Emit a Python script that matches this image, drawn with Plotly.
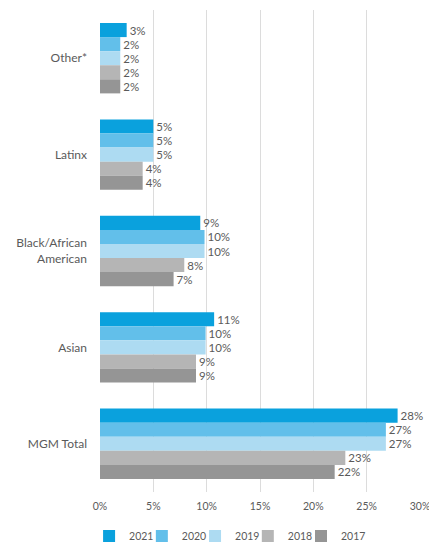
import plotly.graph_objects as go

categories = ["Other*", "Latinx", "Black/African<br>American", "Asian", "MGM Total"]
years = ["2021", "2020", "2019", "2018", "2017"]
values = {
    "2021": [2.5, 5.0, 9.4, 10.7, 27.9],
    "2020": [1.9, 5.0, 9.8, 9.9, 26.8],
    "2019": [1.9, 5.0, 9.8, 9.9, 26.8],
    "2018": [1.9, 4.0, 7.9, 9.0, 23.0],
    "2017": [1.9, 4.0, 6.9, 9.0, 22.0],
}
labels = {
    "2021": ["3%", "5%", "9%", "11%", "28%"],
    "2020": ["2%", "5%", "10%", "10%", "27%"],
    "2019": ["2%", "5%", "10%", "10%", "27%"],
    "2018": ["2%", "4%", "8%", "9%", "23%"],
    "2017": ["2%", "4%", "7%", "9%", "22%"],
}
colors = {
    "2021": "#0aa1dd",
    "2020": "#62bfea",
    "2019": "#addbf2",
    "2018": "#b5b5b5",
    "2017": "#959595",
}
tick_vals = [0, 5, 10, 15, 20, 25, 30]
tick_text = ["0%", "5%", "10%", "15%", "20%", "25%", "30%"]

W, H = 429, 535  # page body has an 8px default margin
legend_x = [0.189, 0.312, 0.436, 0.559, 0.683]

fig = go.Figure()
for i, y in enumerate(years):
    fig.add_trace(go.Bar(
        name=y, orientation="h", x=values[y], y=categories,
        marker=dict(color=colors[y], line=dict(width=0)),
        text=labels[y], textposition="outside", cliponaxis=False,
        constraintext="none",
        textfont=dict(size=11.5, color="#5a5a5a"),
        legend="legend" if i == 0 else f"legend{i+1}",
    ))

fig.update_layout(
    width=W, height=H,
    barmode="group", bargap=0.27, bargroupgap=0,
    plot_bgcolor="white", paper_bgcolor="white",
    font=dict(family="Lato", size=11, color="#5a5a5a"),
    margin=dict(l=92, r=17, t=2, b=51),
    xaxis=dict(range=[0, 30], tickvals=tick_vals, ticktext=tick_text,
               showgrid=True, gridcolor="#dcdcdc", gridwidth=1,
               zeroline=False, showline=False, ticks="",
               ticklabelstandoff=6,
               tickfont=dict(size=10.5, color="#5a5a5a")),
    yaxis=dict(autorange="reversed", showgrid=False, ticks="",
               ticklabelstandoff=12,
               tickfont=dict(size=12, color="#5a5a5a")),
    showlegend=True,
)
for i in range(len(years)):
    key = "legend" if i == 0 else f"legend{i+1}"
    fig.update_layout({key: dict(
        orientation="h", xref="container", yref="container",
        x=legend_x[i], xanchor="left", y=0.013, yanchor="middle",
        font=dict(size=10.5, color="#5a5a5a"), itemwidth=30,
        bgcolor="rgba(0,0,0,0)",
    )})
fig.write_html("out.html")
